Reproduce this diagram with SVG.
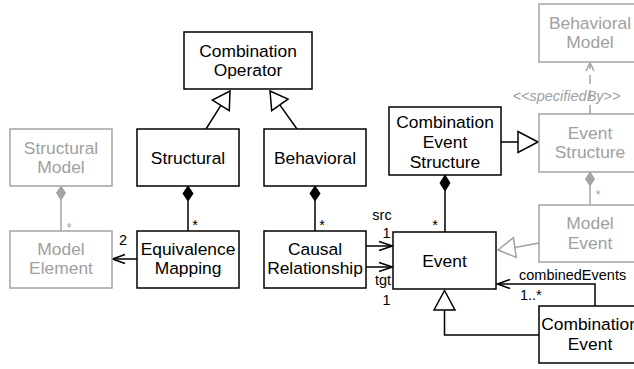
<svg xmlns="http://www.w3.org/2000/svg" width="634" height="369" viewBox="0 0 634 369">
<style>
  .box{fill:#fff;stroke:#000;stroke-width:1.5}
  .gbox{fill:#fff;stroke:#a3a3a3;stroke-width:1.5}
  .t{font-family:"Liberation Sans",Arial,sans-serif;font-size:17.4px;fill:#000;text-anchor:middle}
  .gt{font-family:"Liberation Sans",Arial,sans-serif;font-size:17.4px;fill:#a0a0a0;text-anchor:middle}
  .s{font-family:"Liberation Sans",Arial,sans-serif;font-size:14.5px;fill:#000}
  .gs{font-family:"Liberation Sans",Arial,sans-serif;font-size:12px;fill:#a0a0a0}
  .ln{fill:none;stroke:#000;stroke-width:1.5}
  .gln{fill:none;stroke:#a3a3a3;stroke-width:1.5}
  .tri{fill:#fff;stroke:#000;stroke-width:1.5;stroke-linejoin:miter}
  .gtri{fill:#fff;stroke:#a3a3a3;stroke-width:1.5}
  .dia{fill:#000;stroke:#000;stroke-width:1}
  .gdia{fill:#a3a3a3;stroke:#a3a3a3;stroke-width:1}
</style>
<rect width="634" height="369" fill="#fff"/>
<g id="connectors">
  <!-- generalizations to Combination Operator -->
  <line class="ln" x1="206" y1="129" x2="220.9" y2="105.4"/>
  <polygon class="tri" points="230,91 229.3,110.7 212.4,100.1"/>
  <line class="ln" x1="297" y1="129" x2="279.8" y2="104.9"/>
  <polygon class="tri" points="270,91 288,99.1 271.7,110.7"/>
  <!-- compositions -->
  <polygon class="dia" points="188,186 193,193.5 188,201 183,193.5"/>
  <line class="ln" x1="188" y1="201" x2="188" y2="231"/>
  <text class="s" x="195" y="230" text-anchor="middle">*</text>
  <polygon class="dia" points="315,186 320,193.5 315,201 310,193.5"/>
  <line class="ln" x1="315" y1="201" x2="315" y2="231"/>
  <text class="s" x="322" y="230" text-anchor="middle">*</text>
  <polygon class="gdia" points="61,186 65.5,193 61,200 56.5,193"/>
  <line class="gln" x1="61" y1="200" x2="61" y2="231"/>
  <text class="gs" x="69" y="232" text-anchor="middle">*</text>
  <!-- Equivalence Mapping -> Model Element -->
  <line class="ln" x1="137" y1="259" x2="113" y2="259"/>
  <polyline class="ln" points="125,254.5 112.5,259 125,263.5"/>
  <text class="s" x="123" y="245" text-anchor="middle">2</text>
  <!-- Causal Relationship -> Event -->
  <line class="ln" x1="366" y1="246" x2="392" y2="246"/>
  <polyline class="ln" points="379,241.5 392.5,246 379,250.5"/>
  <line class="ln" x1="366" y1="267" x2="392" y2="267"/>
  <polyline class="ln" points="379,262.5 392.5,267 379,271.5"/>
  <text class="s" x="382" y="220" text-anchor="middle">src</text>
  <text class="s" x="386.5" y="238" text-anchor="middle">1</text>
  <text class="s" x="383" y="285" text-anchor="middle">tgt</text>
  <text class="s" x="386.5" y="305" text-anchor="middle">1</text>
  <!-- CES composition of Event -->
  <polygon class="dia" points="445,175 450,183 445,191 440,183"/>
  <line class="ln" x1="445" y1="191" x2="445" y2="232"/>
  <text class="s" x="435" y="230" text-anchor="middle">*</text>
  <!-- CES -> Event Structure generalization -->
  <line class="ln" x1="501" y1="142" x2="518" y2="142"/>
  <polygon class="tri" points="538,142 518,131.5 518,152.5"/>
  <!-- Event Structure -> Behavioral Model dashed -->
  <line class="gln" x1="590" y1="114" x2="590" y2="63" stroke-dasharray="9 6"/>
  <polyline class="gln" points="586,71 590,63 594,71"/>
  <text class="s" x="566.5" y="101" text-anchor="middle" font-style="italic" fill="#a0a0a0" style="fill:#a0a0a0">&lt;&lt;specifiedBy&gt;&gt;</text>
  <!-- Event Structure composition of Model Event -->
  <polygon class="gdia" points="590,172 594.5,179 590,186 585.5,179"/>
  <line class="gln" x1="590" y1="186" x2="590" y2="205"/>
  <text class="gs" x="598" y="199" text-anchor="middle">*</text>
  <!-- Model Event -> Event generalization -->
  <line class="gln" x1="539" y1="243" x2="514.8" y2="247.5"/>
  <polygon class="gtri" points="498,250 516.3,257.4 513.4,237.6"/>
  <!-- Combination Event -> Event association -->
  <polyline class="ln" points="595,306 595,284 497.5,284"/>
  <polyline class="ln" points="510,279.5 497.5,284 510,288.5"/>
  <text class="s" x="519" y="280">combinedEvents</text>
  <text class="s" x="520" y="299.5">1..*</text>
  <!-- Combination Event -> Event generalization -->
  <polyline class="ln" points="539,335 444.5,335 444.5,310"/>
  <polygon class="tri" points="444.5,290.5 434,310 455,310"/>
</g>
<g id="combination-operator">
  <rect class="box" x="184" y="32" width="128" height="57"/>
  <text class="t" x="248" y="56.5">Combination</text>
  <text class="t" x="248" y="76">Operator</text>
</g>
<g id="structural">
  <rect class="box" x="137" y="129" width="102" height="57"/>
  <text class="t" x="188" y="163.5">Structural</text>
</g>
<g id="behavioral">
  <rect class="box" x="264" y="129" width="102" height="57"/>
  <text class="t" x="315" y="163.5">Behavioral</text>
</g>
<g id="structural-model">
  <rect class="gbox" x="10" y="129" width="102" height="57"/>
  <text class="gt" x="61" y="153.5">Structural</text>
  <text class="gt" x="61" y="173">Model</text>
</g>
<g id="model-element">
  <rect class="gbox" x="10" y="231" width="102" height="57"/>
  <text class="gt" x="61" y="254.5">Model</text>
  <text class="gt" x="61" y="274">Element</text>
</g>
<g id="equivalence-mapping">
  <rect class="box" x="137" y="231" width="102" height="57"/>
  <text class="t" x="188" y="254.5">Equivalence</text>
  <text class="t" x="188" y="274">Mapping</text>
</g>
<g id="causal-relationship">
  <rect class="box" x="264" y="231" width="102" height="57"/>
  <text class="t" x="315" y="254.5">Causal</text>
  <text class="t" x="315" y="274">Relationship</text>
</g>
<g id="event">
  <rect class="box" x="393" y="232" width="103" height="57"/>
  <text class="t" x="444.5" y="266.5">Event</text>
</g>
<g id="combination-event-structure">
  <rect class="box" x="389" y="107" width="112" height="68"/>
  <text class="t" x="445" y="128">Combination</text>
  <text class="t" x="445" y="148">Event</text>
  <text class="t" x="445" y="168">Structure</text>
</g>
<g id="behavioral-model">
  <rect class="gbox" x="539" y="4" width="102" height="58"/>
  <text class="gt" x="590" y="28.5">Behavioral</text>
  <text class="gt" x="590" y="48">Model</text>
</g>
<g id="event-structure">
  <rect class="gbox" x="539" y="114" width="102" height="58"/>
  <text class="gt" x="590" y="138.5">Event</text>
  <text class="gt" x="590" y="158">Structure</text>
</g>
<g id="model-event">
  <rect class="gbox" x="539" y="205" width="102" height="57"/>
  <text class="gt" x="590" y="229">Model</text>
  <text class="gt" x="590" y="248.5">Event</text>
</g>
<g id="combination-event">
  <rect class="box" x="539" y="306" width="110" height="57"/>
  <text class="t" x="590" y="330">Combination</text>
  <text class="t" x="590" y="349.5">Event</text>
</g>
</svg>
